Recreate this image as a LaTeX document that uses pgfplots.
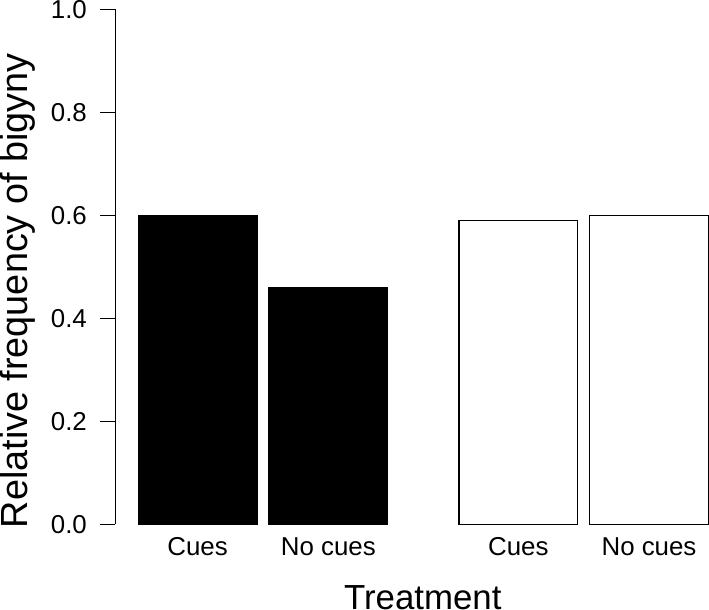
\documentclass[border=0pt]{standalone}
\usepackage{pgfplots}
\pgfplotsset{compat=1.18}
\usepackage{fontspec}
\setmainfont{Liberation Sans}
\begin{document}
\begin{tikzpicture}
\begin{axis}[
  scale only axis,
  width=594bp, height=516bp,
  xmin=-0.193, xmax=4.8, ymin=0, ymax=1,
  enlargelimits=false,
  axis lines*=left,
  x axis line style={draw=none},
  xtick style={draw=none},
  ytick={0,0.2,0.4,0.6,0.8,1},
  yticklabel style={inner ysep=0pt, xshift=-10bp, /pgf/number format/fixed, /pgf/number format/fixed zerofill, /pgf/number format/precision=1},
  /pgf/number format/assume math mode=true,
  tick align=outside, major tick length=15bp,
  every tick/.style={line width=0.8pt, black},
  y axis line style={line width=0.8pt},
  ticklabel style={font=\fontsize{26}{30}\selectfont},
  xticklabel style={yshift=5bp},
  xtick={0.5,1.6,3.2,4.3},
  xticklabels={Cues, No cues, Cues, No cues},
  xlabel={Treatment},
  ylabel={Relative frequency of bigyny},
  xlabel style={font=\fontsize{35}{40}\selectfont, at={(rel axis cs:0.5,0)}, anchor=north, inner sep=0pt, yshift=-61bp, xshift=11bp},
  ylabel style={font=\fontsize{38}{44}\selectfont, at={(rel axis cs:0,0.5)}, anchor=south, inner sep=0pt, yshift=80bp, xshift=-24bp},
  ybar, bar width=1, bar shift=0pt,
  clip=false,
]
\addplot[fill=black, draw=black, line width=1pt] coordinates {(0.5,0.60) (1.6,0.46)};
\addplot[fill=white, draw=black, line width=1.2pt] coordinates {(3.2,0.59) (4.3,0.60)};
\end{axis}
\end{tikzpicture}
\end{document}
